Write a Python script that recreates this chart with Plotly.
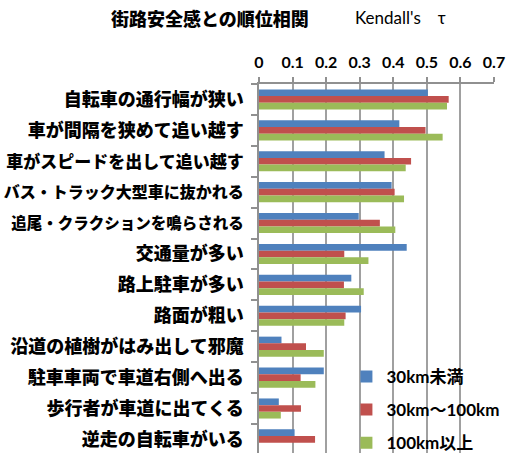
import plotly.graph_objects as go

# Factors (top to bottom) and Kendall's tau for each trip-distance group
factors = [
    "自転車の通行幅が狭い",
    "車が間隔を狭めて追い越す",
    "車がスピードを出して追い越す",
    "バス・トラック大型車に抜かれる",
    "追尾・クラクションを鳴らされる",
    "交通量が多い",
    "路上駐車が多い",
    "路面が粗い",
    "沿道の植樹がはみ出して邪魔",
    "駐車車両で車道右側へ出る",
    "歩行者が車道に出てくる",
    "逆走の自転車がいる",
]
under_30km = [0.503, 0.418, 0.374, 0.395, 0.297, 0.440, 0.275, 0.304, 0.067, 0.193, 0.059, 0.106]
km30_100 = [0.565, 0.496, 0.453, 0.404, 0.360, 0.254, 0.253, 0.258, 0.140, 0.124, 0.125, 0.167]
over_100km = [0.560, 0.547, 0.437, 0.432, 0.406, 0.326, 0.312, 0.254, 0.193, 0.168, 0.065, None]

series_names = ["30km未満", "30km～100km", "100km以上"]
series_colors = ["#4F81BD", "#C0504D", "#9BBB59"]
x_ticks = [0, 0.1, 0.2, 0.3, 0.4, 0.5, 0.6, 0.7]

LATIN = "Lato, 'Noto Sans CJK JP', sans-serif"
CJK = "'Noto Sans CJK JP', sans-serif"

# The longest labels are set slightly smaller so they fit the left margin
label_sizes = {
    "車がスピードを出して追い越す": 17,
    "バス・トラック大型車に抜かれる": 16,
    "追尾・クラクションを鳴らされる": 15.5,
}
tick_text = [
    f'<span style="font-size:{label_sizes[f]}px">{f}</span>' if f in label_sizes else f
    for f in factors
]

fig = go.Figure()
for name, vals, color in zip(series_names, [under_30km, km30_100, over_100km], series_colors):
    fig.add_trace(go.Bar(
        y=factors, x=vals, name=name, orientation="h",
        marker=dict(color=color, line=dict(width=0)),
        legendgroup=name,
    ))

fig.update_layout(
    width=508, height=453,
    margin=dict(l=259, r=14, t=84, b=0, autoexpand=False),
    paper_bgcolor="white", plot_bgcolor="white",
    barmode="group", bargap=0.35, bargroupgap=0,
    font=dict(family=LATIN, color="black"),
    showlegend=True,
    legend=dict(
        x=0.372, y=0.255, xanchor="left", yanchor="top",
        bgcolor="rgba(0,0,0,0)",
        font=dict(family=LATIN, size=17, color="black", weight="bold"),
        traceorder="grouped", tracegroupgap=8,
        itemwidth=30,
    ),
    xaxis=dict(
        side="top", range=[0, 0.7], automargin=False,
        tickvals=x_ticks, ticktext=[f"{v:g}" for v in x_ticks],
        tickfont=dict(family=LATIN, size=16, color="black", weight="bold"),
        ticklabelstandoff=3,
        showgrid=True, gridcolor="#a0a0a0", gridwidth=1.5,
        showline=True, linecolor="#909090", linewidth=1.5,
        ticks="outside", ticklen=5, tickcolor="#909090", tickwidth=1.5,
        zeroline=False, fixedrange=True,
    ),
    yaxis=dict(
        type="category", categoryorder="array", categoryarray=factors,
        range=[11.44, -0.5], automargin=False,
        tickmode="array", tickvals=factors, ticktext=tick_text,
        tickson="boundaries",
        tickfont=dict(family=CJK, size=18, color="black", weight=900),
        ticks="outside", ticklen=6, tickcolor="#909090", tickwidth=1.5,
        ticklabelstandoff=10,
        showline=True, linecolor="#909090", linewidth=1.5,
        showgrid=False, zeroline=False, fixedrange=True,
    ),
    annotations=[
        dict(text="街路安全感との順位相関", xref="paper", yref="paper",
             x=(210 - 259) / 235, y=1 + (84 - 18) / 369, xanchor="center", yanchor="middle",
             showarrow=False, font=dict(family=CJK, size=18, color="black", weight=900)),
        dict(text="Kendall's\u3000τ", xref="paper", yref="paper",
             x=(353 - 259) / 235, y=1 + (84 - 18) / 369, xanchor="left", yanchor="middle",
             showarrow=False, font=dict(family=LATIN, size=17, color="black")),
    ],
)

fig.write_html("out.html")
